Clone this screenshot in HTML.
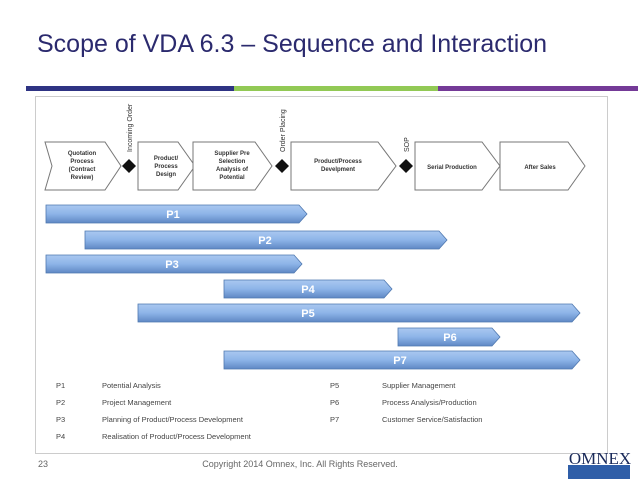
<!DOCTYPE html>
<html><head><style>
body{margin:0;width:638px;height:479px;background:#fff;position:relative;overflow:hidden;font-family:"Liberation Sans",sans-serif}
.t{position:absolute;left:37px;top:30px;font-size:25px;color:#2b2a6e}
.s{position:absolute;top:86px;height:5px}
.leg{position:absolute;font-size:7.5px;color:#444}
</style></head><body>
<div class="t">Scope of VDA 6.3 – Sequence and Interaction</div>
<div class="s" style="left:26px;width:208px;background:#2e3383"></div>
<div class="s" style="left:234px;width:204px;background:#92c955"></div>
<div class="s" style="left:438px;width:200px;background:#743a97"></div>
<div style="position:absolute;left:35px;top:96px;width:571px;height:356px;border:1px solid #ccc"></div>
<svg width="638" height="479" style="position:absolute;left:0;top:0" font-family="Liberation Sans, sans-serif">
<defs><linearGradient id="g" x1="0" y1="0" x2="0" y2="1"><stop offset="0" stop-color="#aac8f0"/><stop offset="0.5" stop-color="#8db4e8"/><stop offset="1" stop-color="#5f88c4"/></linearGradient></defs>
<g fill="#fff" stroke="#777" stroke-width="1">
<path d="M45,142 H105 L121,166 L105,190 H45 L52,166 Z" transform="translate(0,0)"/>
<path d="M138,142 H178 L195,166 L178,190 H138 Z"/>
<path d="M193,142 H255 L272,166 L255,190 H193 Z"/>
<path d="M291,142 H378 L396,166 L378,190 H291 Z"/>
<path d="M415,142 H482 L500,166 L482,190 H415 Z"/>
<path d="M500,142 H568 L585,166 L568,190 H500 Z"/>
</g>
<g fill="#111"><path d="M129,159 L136,166 L129,173 L122,166Z"/><path d="M282,159 L289,166 L282,173 L275,166Z"/><path d="M406,159 L413,166 L406,173 L399,166Z"/></g>
<g font-size="6" fill="#333" text-anchor="middle" font-weight="bold">
<text x="82" y="155">Quotation</text><text x="82" y="163">Process</text><text x="82" y="171">(Contract</text><text x="82" y="179">Review)</text>
<text x="166" y="160">Product/</text><text x="166" y="168">Process</text><text x="166" y="176">Design</text>
<text x="232" y="155">Supplier Pre</text><text x="232" y="163">Selection</text><text x="232" y="171">Analysis of</text><text x="232" y="179">Potential</text>
<text x="338" y="163">Product/Process</text><text x="338" y="171">Develpment</text>
<text x="452" y="169">Serial Production</text><text x="540" y="169">After Sales</text>
</g>
<g font-size="7" fill="#333"><text transform="translate(132,152) rotate(-90)">Incoming Order</text><text transform="translate(285,152) rotate(-90)">Order Placing</text><text transform="translate(409,152) rotate(-90)">SOP</text></g>
<g fill="url(#g)" stroke="#4f78b0" stroke-width="0.8">
<path d="M46,205 H299 L307,214 L299,223 H46Z"/>
<path d="M85,231 H439 L447,240 L439,249 H85Z"/>
<path d="M46,255 H294 L302,264 L294,273 H46Z"/>
<path d="M224,280 H384 L392,289 L384,298 H224Z"/>
<path d="M138,304 H572 L580,313 L572,322 H138Z"/>
<path d="M398,328 H492 L500,337 L492,346 H398Z"/>
<path d="M224,351 H572 L580,360 L572,369 H224Z"/>
</g>
<g font-size="11" fill="#fff" font-weight="bold" text-anchor="middle">
<text x="173" y="218">P1</text><text x="265" y="244">P2</text><text x="172" y="268">P3</text><text x="308" y="293">P4</text><text x="308" y="317">P5</text><text x="450" y="341">P6</text><text x="400" y="364">P7</text>
</g>
<g font-size="7.5" fill="#444">
<text x="56" y="388">P1</text><text x="102" y="388">Potential Analysis</text>
<text x="56" y="405">P2</text><text x="102" y="405">Project Management</text>
<text x="56" y="422">P3</text><text x="102" y="422">Planning of Product/Process  Development</text>
<text x="56" y="439">P4</text><text x="102" y="439">Realisation of Product/Process  Development</text>
<text x="330" y="388">P5</text><text x="382" y="388">Supplier Management</text>
<text x="330" y="405">P6</text><text x="382" y="405">Process Analysis/Production</text>
<text x="330" y="422">P7</text><text x="382" y="422">Customer Service/Satisfaction</text>
</g>
<text x="38" y="467" font-size="9" fill="#666">23</text>
<text x="300" y="467" font-size="9" fill="#666" text-anchor="middle">Copyright 2014 Omnex, Inc. All Rights Reserved.</text>
<rect x="568" y="465" width="62" height="14" fill="#2f5ea8"/>
<text x="600" y="464" font-size="17" font-family="Liberation Serif, serif" fill="#1a2a5a" text-anchor="middle">OMNEX</text>
</svg>
</body></html>
